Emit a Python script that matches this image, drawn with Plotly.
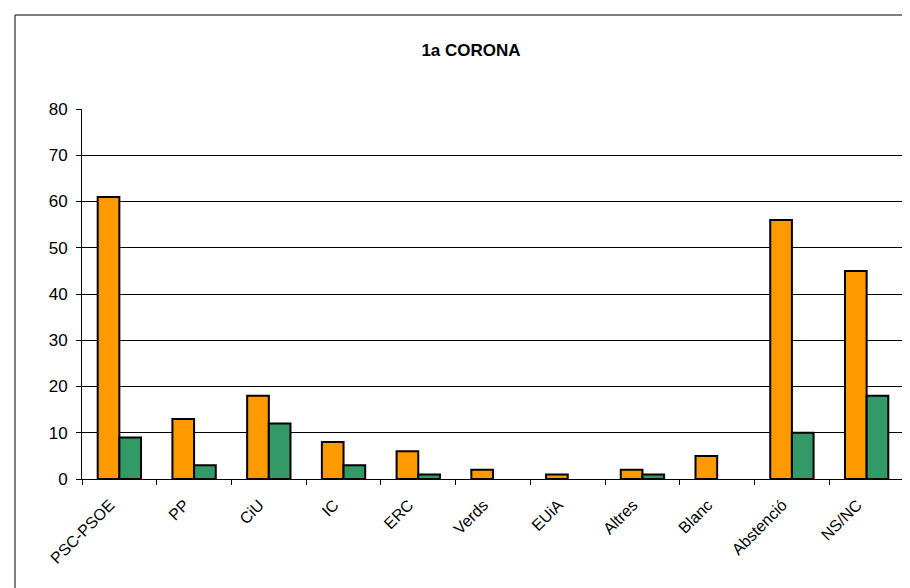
import plotly.graph_objects as go

categories = ["PSC-PSOE", "PP", "CiU", "IC", "ERC", "Verds", "EUiA", "Altres", "Blanc", "Abstenció", "NS/NC"]
serie_taronja = [61, 13, 18, 8, 6, 2, 1, 2, 5, 56, 45]
serie_verda = [9, 3, 12, 3, 1, 0, 0, 1, 0, 10, 18]
y_ticks = [0, 10, 20, 30, 40, 50, 60, 70, 80]

OFF = 8  # page body margin
W, H = 910 - OFF, 588 - OFF
L, T = 82 - OFF, 109 - OFF
pw, ph = 822, 370
R, B = W - L - pw, H - T - ph

def lw(vals):
    return [2 if v > 0 else 0 for v in vals]

fig = go.Figure()
fig.add_trace(go.Bar(x=categories, y=serie_taronja,
                     marker=dict(color="#FF9900", line=dict(color="black", width=lw(serie_taronja))), showlegend=False))
fig.add_trace(go.Bar(x=categories, y=serie_verda,
                     marker=dict(color="#339966", line=dict(color="black", width=lw(serie_verda))), showlegend=False))

fig.update_layout(
    width=W, height=H,
    margin=dict(l=L, r=R, t=T, b=B),
    paper_bgcolor="white", plot_bgcolor="white",
    barmode="group", bargap=0.42, bargroupgap=0,
    font=dict(family="Liberation Sans, Arial", color="black"),
    title=dict(text="<b>1a CORONA</b>", x=(471 - OFF) / W, xanchor="center", y=1 - (50 - OFF) / H, yanchor="middle",
               font=dict(size=17, family="Liberation Sans, Arial", color="black")),
)
fig.update_yaxes(range=[0, 80], tickvals=y_ticks, showgrid=True, gridcolor="black", gridwidth=1,
                 showline=True, linecolor="black", linewidth=1, ticks="outside", ticklen=5, tickcolor="black",
                 tickfont=dict(size=17), ticklabelstandoff=5, zeroline=False, fixedrange=True)
fig.update_xaxes(showline=True, linecolor="black", linewidth=1, ticks="outside", ticklen=5, tickcolor="black",
                 tickson="boundaries", tickangle=-45, tickfont=dict(size=16), fixedrange=True,
                 tickmode="array", tickvals=categories, ticktext=[c + "\u00a0" * 3 for c in categories])

# plot area right border (gray)
fig.add_shape(type="line", xref="paper", yref="paper", x0=1, x1=1, y0=0, y1=1, line=dict(color="#808080", width=1))
# outer chart border
fig.add_shape(type="rect", xref="paper", yref="paper",
              x0=(15 - 82) / pw, x1=(920 - 82) / pw, y0=(479 - 600) / ph, y1=(479 - 15) / ph,
              line=dict(color="black", width=1), fillcolor="rgba(0,0,0,0)", layer="below")

fig.write_html("out.html")
